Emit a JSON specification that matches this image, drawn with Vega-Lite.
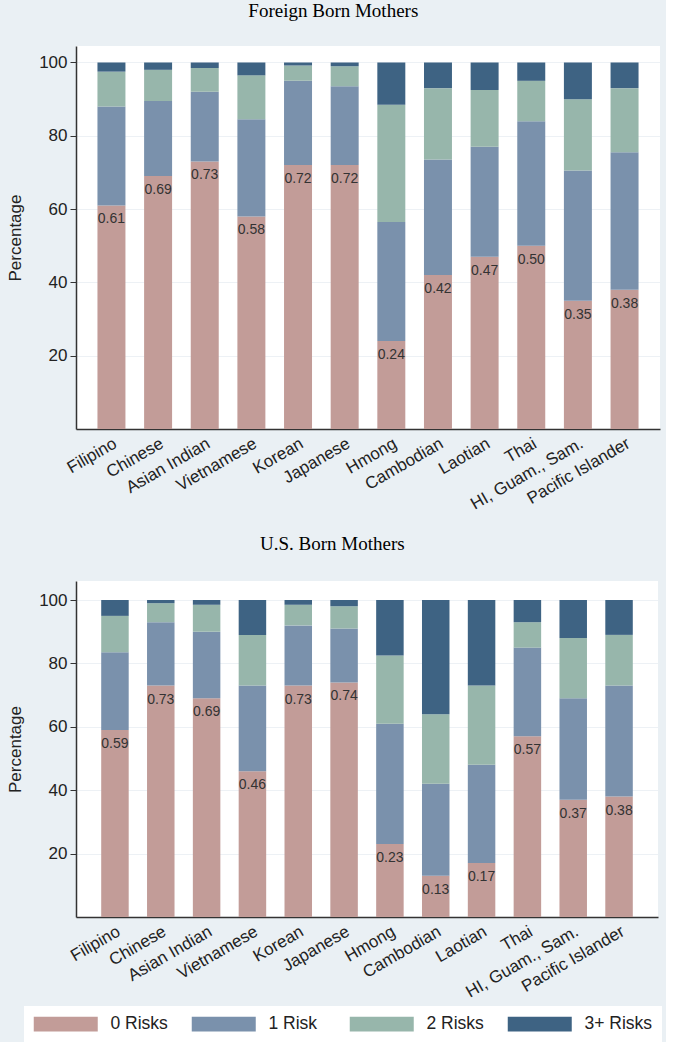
{
  "$schema": "https://vega.github.io/schema/vega-lite/v6.json",
  "background": "#EAF0F4",
  "padding": {"left": 6, "top": 2, "right": 4, "bottom": 0},
  "spacing": 22,
  "data": {"values": [
    {"panel": "F", "group": "Filipino", "risk": "0 Risks", "pct": 61, "label": "0.61"},
    {"panel": "F", "group": "Filipino", "risk": "1 Risk", "pct": 27},
    {"panel": "F", "group": "Filipino", "risk": "2 Risks", "pct": 9.5},
    {"panel": "F", "group": "Filipino", "risk": "3+ Risks", "pct": 2.5},
    {"panel": "F", "group": "Chinese", "risk": "0 Risks", "pct": 69, "label": "0.69"},
    {"panel": "F", "group": "Chinese", "risk": "1 Risk", "pct": 20.5},
    {"panel": "F", "group": "Chinese", "risk": "2 Risks", "pct": 8.5},
    {"panel": "F", "group": "Chinese", "risk": "3+ Risks", "pct": 2},
    {"panel": "F", "group": "Asian Indian", "risk": "0 Risks", "pct": 73, "label": "0.73"},
    {"panel": "F", "group": "Asian Indian", "risk": "1 Risk", "pct": 19},
    {"panel": "F", "group": "Asian Indian", "risk": "2 Risks", "pct": 6.5},
    {"panel": "F", "group": "Asian Indian", "risk": "3+ Risks", "pct": 1.5},
    {"panel": "F", "group": "Vietnamese", "risk": "0 Risks", "pct": 58, "label": "0.58"},
    {"panel": "F", "group": "Vietnamese", "risk": "1 Risk", "pct": 26.5},
    {"panel": "F", "group": "Vietnamese", "risk": "2 Risks", "pct": 12},
    {"panel": "F", "group": "Vietnamese", "risk": "3+ Risks", "pct": 3.5},
    {"panel": "F", "group": "Korean", "risk": "0 Risks", "pct": 72, "label": "0.72"},
    {"panel": "F", "group": "Korean", "risk": "1 Risk", "pct": 23},
    {"panel": "F", "group": "Korean", "risk": "2 Risks", "pct": 4.2},
    {"panel": "F", "group": "Korean", "risk": "3+ Risks", "pct": 0.8},
    {"panel": "F", "group": "Japanese", "risk": "0 Risks", "pct": 72, "label": "0.72"},
    {"panel": "F", "group": "Japanese", "risk": "1 Risk", "pct": 21.5},
    {"panel": "F", "group": "Japanese", "risk": "2 Risks", "pct": 5.5},
    {"panel": "F", "group": "Japanese", "risk": "3+ Risks", "pct": 1},
    {"panel": "F", "group": "Hmong", "risk": "0 Risks", "pct": 24, "label": "0.24"},
    {"panel": "F", "group": "Hmong", "risk": "1 Risk", "pct": 32.5},
    {"panel": "F", "group": "Hmong", "risk": "2 Risks", "pct": 32},
    {"panel": "F", "group": "Hmong", "risk": "3+ Risks", "pct": 11.5},
    {"panel": "F", "group": "Cambodian", "risk": "0 Risks", "pct": 42, "label": "0.42"},
    {"panel": "F", "group": "Cambodian", "risk": "1 Risk", "pct": 31.5},
    {"panel": "F", "group": "Cambodian", "risk": "2 Risks", "pct": 19.5},
    {"panel": "F", "group": "Cambodian", "risk": "3+ Risks", "pct": 7},
    {"panel": "F", "group": "Laotian", "risk": "0 Risks", "pct": 47, "label": "0.47"},
    {"panel": "F", "group": "Laotian", "risk": "1 Risk", "pct": 30},
    {"panel": "F", "group": "Laotian", "risk": "2 Risks", "pct": 15.5},
    {"panel": "F", "group": "Laotian", "risk": "3+ Risks", "pct": 7.5},
    {"panel": "F", "group": "Thai", "risk": "0 Risks", "pct": 50, "label": "0.50"},
    {"panel": "F", "group": "Thai", "risk": "1 Risk", "pct": 34},
    {"panel": "F", "group": "Thai", "risk": "2 Risks", "pct": 11},
    {"panel": "F", "group": "Thai", "risk": "3+ Risks", "pct": 5},
    {"panel": "F", "group": "HI, Guam., Sam.", "risk": "0 Risks", "pct": 35, "label": "0.35"},
    {"panel": "F", "group": "HI, Guam., Sam.", "risk": "1 Risk", "pct": 35.5},
    {"panel": "F", "group": "HI, Guam., Sam.", "risk": "2 Risks", "pct": 19.5},
    {"panel": "F", "group": "HI, Guam., Sam.", "risk": "3+ Risks", "pct": 10},
    {"panel": "F", "group": "Pacific Islander", "risk": "0 Risks", "pct": 38, "label": "0.38"},
    {"panel": "F", "group": "Pacific Islander", "risk": "1 Risk", "pct": 37.5},
    {"panel": "F", "group": "Pacific Islander", "risk": "2 Risks", "pct": 17.5},
    {"panel": "F", "group": "Pacific Islander", "risk": "3+ Risks", "pct": 7},
    {"panel": "U", "group": "Filipino", "risk": "0 Risks", "pct": 59, "label": "0.59"},
    {"panel": "U", "group": "Filipino", "risk": "1 Risk", "pct": 24.5},
    {"panel": "U", "group": "Filipino", "risk": "2 Risks", "pct": 11.5},
    {"panel": "U", "group": "Filipino", "risk": "3+ Risks", "pct": 5},
    {"panel": "U", "group": "Chinese", "risk": "0 Risks", "pct": 73, "label": "0.73"},
    {"panel": "U", "group": "Chinese", "risk": "1 Risk", "pct": 20},
    {"panel": "U", "group": "Chinese", "risk": "2 Risks", "pct": 6},
    {"panel": "U", "group": "Chinese", "risk": "3+ Risks", "pct": 1},
    {"panel": "U", "group": "Asian Indian", "risk": "0 Risks", "pct": 69, "label": "0.69"},
    {"panel": "U", "group": "Asian Indian", "risk": "1 Risk", "pct": 21},
    {"panel": "U", "group": "Asian Indian", "risk": "2 Risks", "pct": 8.5},
    {"panel": "U", "group": "Asian Indian", "risk": "3+ Risks", "pct": 1.5},
    {"panel": "U", "group": "Vietnamese", "risk": "0 Risks", "pct": 46, "label": "0.46"},
    {"panel": "U", "group": "Vietnamese", "risk": "1 Risk", "pct": 27},
    {"panel": "U", "group": "Vietnamese", "risk": "2 Risks", "pct": 16},
    {"panel": "U", "group": "Vietnamese", "risk": "3+ Risks", "pct": 11},
    {"panel": "U", "group": "Korean", "risk": "0 Risks", "pct": 73, "label": "0.73"},
    {"panel": "U", "group": "Korean", "risk": "1 Risk", "pct": 19},
    {"panel": "U", "group": "Korean", "risk": "2 Risks", "pct": 6.5},
    {"panel": "U", "group": "Korean", "risk": "3+ Risks", "pct": 1.5},
    {"panel": "U", "group": "Japanese", "risk": "0 Risks", "pct": 74, "label": "0.74"},
    {"panel": "U", "group": "Japanese", "risk": "1 Risk", "pct": 17},
    {"panel": "U", "group": "Japanese", "risk": "2 Risks", "pct": 7},
    {"panel": "U", "group": "Japanese", "risk": "3+ Risks", "pct": 2},
    {"panel": "U", "group": "Hmong", "risk": "0 Risks", "pct": 23, "label": "0.23"},
    {"panel": "U", "group": "Hmong", "risk": "1 Risk", "pct": 38},
    {"panel": "U", "group": "Hmong", "risk": "2 Risks", "pct": 21.5},
    {"panel": "U", "group": "Hmong", "risk": "3+ Risks", "pct": 17.5},
    {"panel": "U", "group": "Cambodian", "risk": "0 Risks", "pct": 13, "label": "0.13"},
    {"panel": "U", "group": "Cambodian", "risk": "1 Risk", "pct": 29},
    {"panel": "U", "group": "Cambodian", "risk": "2 Risks", "pct": 22},
    {"panel": "U", "group": "Cambodian", "risk": "3+ Risks", "pct": 36},
    {"panel": "U", "group": "Laotian", "risk": "0 Risks", "pct": 17, "label": "0.17"},
    {"panel": "U", "group": "Laotian", "risk": "1 Risk", "pct": 31},
    {"panel": "U", "group": "Laotian", "risk": "2 Risks", "pct": 25},
    {"panel": "U", "group": "Laotian", "risk": "3+ Risks", "pct": 27},
    {"panel": "U", "group": "Thai", "risk": "0 Risks", "pct": 57, "label": "0.57"},
    {"panel": "U", "group": "Thai", "risk": "1 Risk", "pct": 28},
    {"panel": "U", "group": "Thai", "risk": "2 Risks", "pct": 8},
    {"panel": "U", "group": "Thai", "risk": "3+ Risks", "pct": 7},
    {"panel": "U", "group": "HI, Guam., Sam.", "risk": "0 Risks", "pct": 37, "label": "0.37"},
    {"panel": "U", "group": "HI, Guam., Sam.", "risk": "1 Risk", "pct": 32},
    {"panel": "U", "group": "HI, Guam., Sam.", "risk": "2 Risks", "pct": 19},
    {"panel": "U", "group": "HI, Guam., Sam.", "risk": "3+ Risks", "pct": 12},
    {"panel": "U", "group": "Pacific Islander", "risk": "0 Risks", "pct": 38, "label": "0.38"},
    {"panel": "U", "group": "Pacific Islander", "risk": "1 Risk", "pct": 35},
    {"panel": "U", "group": "Pacific Islander", "risk": "2 Risks", "pct": 16},
    {"panel": "U", "group": "Pacific Islander", "risk": "3+ Risks", "pct": 11}
  ]},
  "vconcat": [
    {
      "title": {"text": "Foreign Born Mothers", "anchor": "middle", "frame": "bounds", "offset": 25},
      "width": 584,
      "height": 383,
      "transform": [{"filter": "datum.panel === 'F'"}],
      "layer": [
        {
          "mark": {"type": "bar"},
          "encoding": {
            "x": {"field": "group", "type": "nominal", "sort": ["Filipino","Chinese","Asian Indian","Vietnamese","Korean","Japanese","Hmong","Cambodian","Laotian","Thai","HI, Guam., Sam.","Pacific Islander"], "scale": {"paddingInner": 0.4, "paddingOuter": 0.46}, "axis": {"title": null, "labelAngle": -30, "labelAlign": "right", "labelBaseline": "top", "ticks": false, "labelPadding": 6}},
            "y": {"field": "pct", "type": "quantitative", "stack": "zero", "scale": {"domain": [0, 104.5], "nice": false}, "axis": {"title": "Percentage", "values": [20, 40, 60, 80, 100], "titlePadding": 14}},
            "color": {"field": "risk", "type": "nominal", "scale": {"domain": ["0 Risks","1 Risk","2 Risks","3+ Risks"], "range": ["#C29C98","#7A91AC","#97B6AB","#3E6383"]}, "legend": {"orient": "none", "legendX": -52, "legendY": 960}},
            "order": {"field": "risk", "type": "nominal", "sort": "ascending"}
          }
        },
        {
          "transform": [{"filter": "datum.risk === '0 Risks'"}],
          "mark": {"type": "text", "baseline": "middle", "dy": 14, "font": "Liberation Sans", "fontSize": 14, "color": "#333333"},
          "encoding": {
            "x": {"field": "group", "type": "nominal", "sort": ["Filipino","Chinese","Asian Indian","Vietnamese","Korean","Japanese","Hmong","Cambodian","Laotian","Thai","HI, Guam., Sam.","Pacific Islander"]},
            "y": {"field": "pct", "type": "quantitative", "stack": null},
            "text": {"field": "label", "type": "nominal"}
          }
        }
      ]
    },
    {
      "title": {"text": "U.S. Born Mothers", "anchor": "middle", "frame": "bounds", "offset": 27},
      "width": 582,
      "height": 336,
      "transform": [{"filter": "datum.panel === 'U'"}],
      "layer": [
        {
          "mark": {"type": "bar"},
          "encoding": {
            "x": {"field": "group", "type": "nominal", "sort": ["Filipino","Chinese","Asian Indian","Vietnamese","Korean","Japanese","Hmong","Cambodian","Laotian","Thai","HI, Guam., Sam.","Pacific Islander"], "scale": {"paddingInner": 0.4, "paddingOuter": 0.55}, "axis": {"title": null, "labelAngle": -30, "labelAlign": "right", "labelBaseline": "top", "ticks": false, "labelPadding": 6}},
            "y": {"field": "pct", "type": "quantitative", "stack": "zero", "scale": {"domain": [0, 106], "nice": false}, "axis": {"title": "Percentage", "values": [20, 40, 60, 80, 100], "titlePadding": 14}},
            "color": {"field": "risk", "type": "nominal", "scale": {"domain": ["0 Risks","1 Risk","2 Risks","3+ Risks"], "range": ["#C29C98","#7A91AC","#97B6AB","#3E6383"]}, "legend": {"orient": "none", "legendX": -52, "legendY": 960}},
            "order": {"field": "risk", "type": "nominal", "sort": "ascending"}
          }
        },
        {
          "transform": [{"filter": "datum.risk === '0 Risks'"}],
          "mark": {"type": "text", "baseline": "middle", "dy": 14, "font": "Liberation Sans", "fontSize": 14, "color": "#333333"},
          "encoding": {
            "x": {"field": "group", "type": "nominal", "sort": ["Filipino","Chinese","Asian Indian","Vietnamese","Korean","Japanese","Hmong","Cambodian","Laotian","Thai","HI, Guam., Sam.","Pacific Islander"]},
            "y": {"field": "pct", "type": "quantitative", "stack": null},
            "text": {"field": "label", "type": "nominal"}
          }
        }
      ]
    }
  ],
  "config": {
    "view": {"fill": "white", "stroke": null},
    "title": {"font": "Liberation Serif", "fontSize": 19, "fontWeight": "normal", "color": "#000000"},
    "axis": {"labelFont": "Liberation Sans", "labelFontSize": 17, "labelColor": "#222222", "titleFont": "Liberation Sans", "titleFontSize": 17, "titleFontWeight": "normal", "titleColor": "#222222", "domainColor": "#333333", "domainWidth": 1.5, "tickColor": "#333333", "tickSize": 6, "gridColor": "#EDF1F5", "labelPadding": 3},
    "legend": {"direction": "horizontal", "columns": 4, "title": null, "symbolType": "M-1,-0.92H7V0.92H-1Z", "symbolSize": 256, "symbolStrokeWidth": 0, "symbolOpacity": 1, "labelFont": "Liberation Sans", "labelFontSize": 17.5, "labelColor": "#222222", "labelOffset": 60, "columnPadding": 12, "padding": 9, "fillColor": "white", "gridAlign": "all"}
  }
}
